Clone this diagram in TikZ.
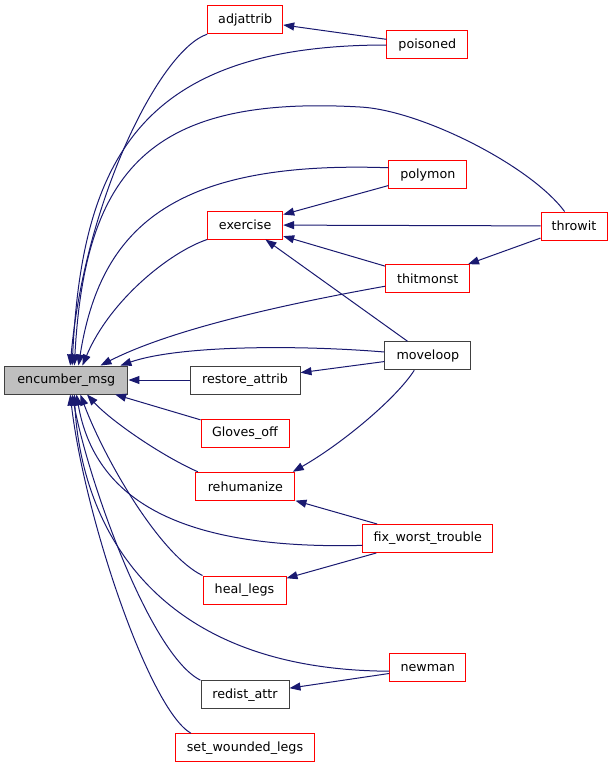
\documentclass[tikz,border=0pt]{standalone}
\usepackage{fontspec}
\setmainfont{DejaVu Sans}
\usetikzlibrary{arrows.meta}
\definecolor{midnight}{HTML}{191970}
\definecolor{boxgray}{HTML}{BFBFBF}
\definecolor{boxline}{HTML}{404040}
\definecolor{boxred}{HTML}{FF0000}
\begin{document}
\begin{tikzpicture}
[x=1pt,y=-1pt,
  nodedecorate/.style={shape=rectangle,draw=boxline,line width=1pt,inner sep=0pt,
    minimum height=28pt,fill=white,font=\fontsize{12.7}{15}\selectfont},%
  rednodedecorate/.style={nodedecorate,draw=boxred},%
  mainnodedecorate/.style={nodedecorate,fill=boxgray},%
  linedecorate/.style={draw=midnight,line width=1pt,-{Triangle[length=11pt,width=8pt]}}]
\useasboundingbox (0,0) rectangle (613,768);
%%% caller graph of encumber_msg
% nodes or vertices
\node (encumber) at (66.3,380) [mainnodedecorate,minimum width=123.3pt] {encumber\_msg};
\node (adjattrib) at (245.2,19.7) [rednodedecorate,minimum width=75pt] {adjattrib};
\node (exercise) at (245.2,225) [rednodedecorate,minimum width=75pt] {exercise};
\node (restore) at (245,380) [nodedecorate,minimum width=110pt] {restore\_attrib};
\node (gloves) at (245,433) [rednodedecorate,minimum width=88pt] {Gloves\_off};
\node (rehumanize) at (245.3,486.3) [rednodedecorate,minimum width=99.3pt] {rehumanize};
\node (heallegs) at (244.5,590) [rednodedecorate,minimum width=83pt] {heal\_legs};
\node (redist) at (245,694.7) [nodedecorate,minimum width=88pt] {redist\_attr};
\node (setwounded) at (245,747.7) [rednodedecorate,minimum width=138.6pt] {set\_wounded\_legs};
\node (poisoned) at (427.3,45) [rednodedecorate,minimum width=80.7pt] {poisoned};
\node (polymon) at (427.8,174.7) [rednodedecorate,minimum width=77.7pt] {polymon};
\node (thitmonst) at (427.8,278.7) [rednodedecorate,minimum width=84.3pt] {thitmonst};
\node (moveloop) at (427.8,355.8) [nodedecorate,minimum width=85.7pt] {moveloop};
\node (fixworst) at (427.8,538.5) [rednodedecorate,minimum width=129.7pt] {fix\_worst\_trouble};
\node (newman) at (427.8,667.8) [rednodedecorate,minimum width=76.3pt] {newman};
\node (throwit) at (574,226) [rednodedecorate,minimum width=66pt] {throwit};
% edges or lines
\path
(poisoned) edge[linedecorate] (adjattrib)
(polymon) edge[linedecorate] (exercise)
(throwit) edge[linedecorate] (exercise)
(thitmonst) edge[linedecorate] (exercise)
(moveloop) edge[linedecorate] (exercise)
(throwit) edge[linedecorate] (thitmonst)
(moveloop) edge[linedecorate] (restore)
(restore) edge[linedecorate] (encumber)
(gloves) edge[linedecorate] (encumber)
(fixworst) edge[linedecorate] (rehumanize)
(fixworst) edge[linedecorate] (heallegs)
(newman) edge[linedecorate] (redist);
% curved edges
\draw[linedecorate] (adjattrib.south west) .. controls (160,50) and (85,200) .. (encumber.75);
\draw[linedecorate] (poisoned.west) .. controls (140,45) and (82,160) .. (encumber.68);
\draw[linedecorate] (throwit.123) .. controls (530,165) and (420,110) .. (360,107)
  .. controls (150,95) and (85,170) .. (encumber.61);
\draw[linedecorate] (polymon.170) .. controls (170,160) and (100,230) .. (encumber.50);
\draw[linedecorate] (exercise.south west) .. controls (170,252) and (110,300) .. (encumber.42);
\draw[linedecorate] (thitmonst.190) .. controls (280,305) and (170,330) .. (encumber.23);
\draw[linedecorate] (moveloop.175) .. controls (300,345) and (180,345) .. (encumber.15);
\draw[linedecorate] (moveloop.227) .. controls (395,400) and (340,445) .. (rehumanize.17);
\draw[linedecorate] (rehumanize.163) .. controls (160,455) and (110,420) .. (encumber.-35);
\draw[linedecorate] (fixworst.186) .. controls (180,550) and (95,500) .. (encumber.-55);
\draw[linedecorate] (heallegs.north west) .. controls (160,555) and (105,460) .. (encumber.-46);
\draw[linedecorate] (newman.185) .. controls (140,670) and (80,510) .. (encumber.-61);
\draw[linedecorate] (redist.north west) .. controls (150,655) and (88,480) .. (encumber.-68);
\draw[linedecorate] (setwounded.165) .. controls (150,710) and (85,520) .. (encumber.-75);
\end{tikzpicture}
\end{document}
